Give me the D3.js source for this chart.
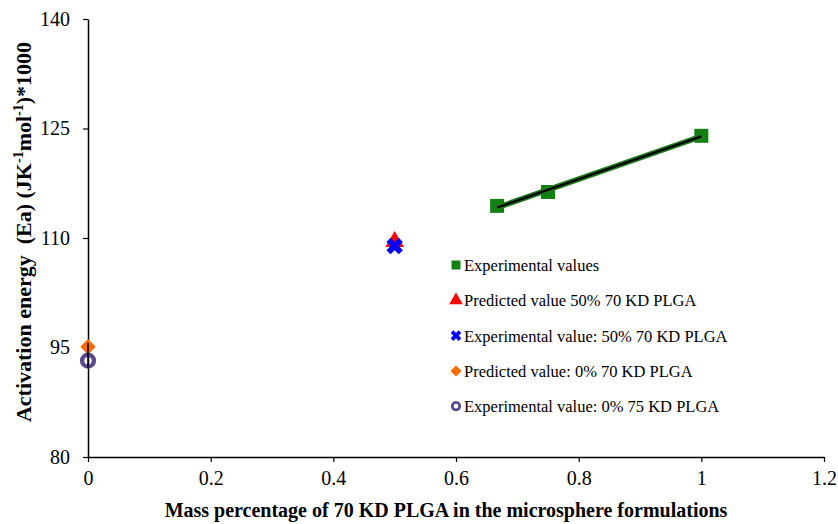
<!DOCTYPE html>
<html>
<head>
<meta charset="utf-8">
<script src="https://cdn.jsdelivr.net/npm/d3@7"></script>
<style>
  body { margin: 0; background: #fff; }
  text { font-family: "Liberation Serif", "Times New Roman", serif; }
</style>
</head>
<body>
<script>
// Data
var expX = [0.667, 0.75, 1.0];
var expY = [114.4, 116.3, 124.0];
var pred50 = [0.5, 109.5];
var exp50 = [0.5, 108.9];
var pred0 = [0, 95.1];
var exp0 = [0, 93.2];
var xTicks = [0, 0.2, 0.4, 0.6, 0.8, 1, 1.2];
var yTicks = [80, 95, 110, 125, 140];
var legendLabels = ["Experimental values", "Predicted value 50% 70 KD PLGA",
  "Experimental value: 50% 70 KD PLGA", "Predicted value: 0% 70 KD PLGA",
  "Experimental value: 0% 75 KD PLGA"];

var width = 838, height = 524;
var svg = d3.select("body").append("svg").attr("width", width).attr("height", height);

var x = d3.scaleLinear().domain([0, 1.2]).range([88, 824]);
var y = d3.scaleLinear().domain([80, 140]).range([457, 19]);

// axes
var xAxis = svg.append("g").attr("transform", "translate(0," + y(80) + ")")
  .call(d3.axisBottom(x).tickValues(xTicks).tickSize(5).tickSizeOuter(0)
    .tickFormat(function(d) { return d3.format("~g")(d); }));
var yAxis = svg.append("g").attr("transform", "translate(" + x(0) + ",0)")
  .call(d3.axisLeft(y).tickValues(yTicks).tickSize(5).tickSizeOuter(0));
[xAxis, yAxis].forEach(function(g) {
  g.select(".domain").attr("stroke", "#000").attr("stroke-width", 1.5);
  g.selectAll(".tick line").attr("stroke", "#000").attr("stroke-width", 1.2);
  g.selectAll("text").attr("font-family", "Liberation Serif").attr("font-size", 20).attr("fill", "#000");
});
xAxis.selectAll("text").attr("y", 14).attr("dy", "0.71em");
yAxis.selectAll("text").attr("x", -18).attr("dy", "0.32em");

// axis titles
svg.append("text").attr("x", 446).attr("y", 517).attr("text-anchor", "middle")
  .attr("font-weight", "bold").attr("font-size", 20)
  .text("Mass percentage of 70 KD PLGA in the microsphere formulations");

var yt = svg.append("text").attr("transform", "translate(31,232) rotate(-90)")
  .attr("text-anchor", "middle").attr("font-weight", "bold").attr("font-size", 22);
yt.append("tspan").text("Activation energy\u00a0\u00a0(Ea) (JK");
yt.append("tspan").attr("font-size", 14).attr("dy", -8).text("-1");
yt.append("tspan").attr("dy", 8).text("mol");
yt.append("tspan").attr("font-size", 14).attr("dy", -8).text("-1");
yt.append("tspan").attr("dy", 8).text(")*1000");

// trend line (least squares through experimental values)
var mx = d3.mean(expX), my = d3.mean(expY);
var slope = d3.sum(expX, function(d, i) { return (d - mx) * (expY[i] - my); }) /
  d3.sum(expX, function(d) { return (d - mx) * (d - mx); });
var icpt = my - slope * mx;
var fitX = d3.extent(expX);
var line = d3.line().x(function(d) { return x(d); }).y(function(d) { return y(icpt + slope * d); });

// markers
var sq = d3.symbol().type(d3.symbolSquare).size(196);
svg.selectAll("path.exp").data(expX).enter().append("path").attr("class", "exp")
  .attr("d", sq).attr("fill", "#138012")
  .attr("transform", function(d, i) { return "translate(" + x(d) + "," + y(expY[i]) + ")"; });

svg.append("path").datum(fitX).attr("d", line).attr("stroke", "#1f7a1f").attr("stroke-width", 5.5).attr("fill", "none");
svg.append("path").datum(fitX).attr("d", line).attr("stroke", "#000").attr("stroke-width", 2.2).attr("fill", "none");

function drawTri(g, s) {
  g.append("path").attr("d", d3.symbol().type(d3.symbolTriangle).size(s)).attr("fill", "#ff0000");
}
function drawCross(g, s) {
  g.append("path").attr("d", d3.symbol().type(d3.symbolCross).size(s)).attr("fill", "#0000ff")
    .attr("transform", "rotate(45)");
}
function drawDiamond(g, s) {
  g.append("path").attr("d", d3.symbol().type(d3.symbolSquare).size(s)).attr("fill", "#ff6a00")
    .attr("transform", "rotate(45)");
}
function drawRing(g, s) {
  var r = Math.sqrt(s) / 2.4;
  g.append("circle").attr("r", r).attr("fill", "none").attr("stroke", "#5a4a8a").attr("stroke-width", r * 0.75);
}

var gp = svg.append("g").attr("transform", "translate(" + x(pred50[0]) + "," + y(pred50[1]) + ")");
drawTri(gp, 150);
var ge = svg.append("g").attr("transform", "translate(" + x(exp50[0]) + "," + y(exp50[1]) + ")");
drawCross(ge, 170);
var gd = svg.append("g").attr("transform", "translate(" + x(pred0[0]) + "," + y(pred0[1]) + ")");
drawDiamond(gd, 120);
var gc = svg.append("g").attr("transform", "translate(" + x(exp0[0]) + "," + y(exp0[1]) + ")");
drawRing(gc, 200);
// axis line shows through the 0% markers
svg.append("line").attr("x1", x(0)).attr("x2", x(0)).attr("y1", y(95.6)).attr("y2", y(92.2)).attr("stroke", "#000").attr("stroke-width", 1.5);

// legend
var drawers = [
  function(g) { g.append("rect").attr("x", -4.5).attr("y", -4.5).attr("width", 9).attr("height", 9).attr("fill", "#138012"); },
  function(g) { drawTri(g, 80); },
  function(g) { drawCross(g, 70); },
  function(g) { drawDiamond(g, 60); },
  function(g) { drawRing(g, 80); }
];
var lg = svg.selectAll("g.leg").data(legendLabels).enter().append("g").attr("class", "leg")
  .attr("transform", function(d, i) { return "translate(456," + (265 + i * 35.3) + ")"; });
lg.each(function(d, i) { drawers[i](d3.select(this)); });
lg.append("text").attr("x", 8).attr("y", 6).attr("font-size", 16.5).attr("fill", "#000").text(function(d) { return d; });
</script>
</body>
</html>
